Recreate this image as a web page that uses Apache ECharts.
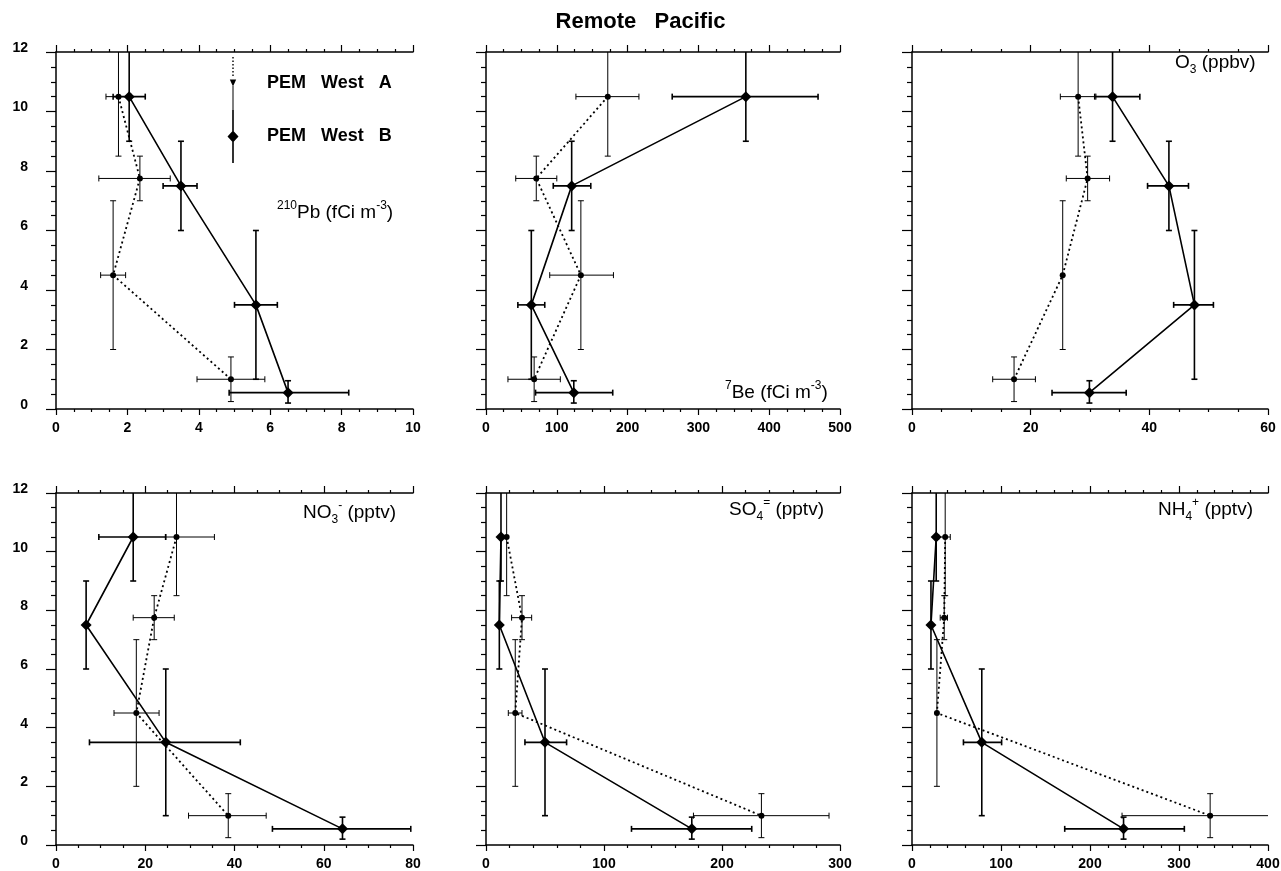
<!DOCTYPE html>
<html>
<head>
<meta charset="utf-8">
<title>Remote Pacific</title>
<script src="https://cdn.jsdelivr.net/npm/echarts@6.0.0/dist/echarts.min.js"></script>
<style>
  html, body { margin: 0; padding: 0; background: #fff; }
  #chart { width: 1281px; height: 871px; }
</style>
</head>
<body>
<div id="chart"></div>
<script>
// altitude (km) of each PEM West A / B layer, and the layer's altitude range
const altA = [10.5, 7.75, 4.5, 1.0];
const altB = [10.5, 7.5, 3.5, 0.55];
const altRangeA = [[8.5, 12.5], [7, 8.5], [2, 7], [0.25, 1.75]];
const altRangeB = [[9, 12.5], [6, 9], [1, 6], [0.2, 0.95]];

// 210Pb (fCi m-3)
const pbA = [1.75, 2.35, 1.6, 4.9];
const pbErrA = [[1.4, 2.1], [1.2, 3.2], [1.25, 1.95], [3.95, 5.85]];
const pbB = [2.05, 3.5, 5.6, 6.5];
const pbErrB = [[1.6, 2.5], [3.0, 3.95], [5.0, 6.2], [4.85, 8.2]];

// 7Be (fCi m-3)
const beA = [172, 71, 134, 68];
const beErrA = [[127, 216], [42, 100], [90, 180], [31, 105]];
const beB = [367, 121, 64, 124];
const beErrB = [[263, 469], [95, 148], [45, 83], [70, 179]];

// O3 (ppbv)
const o3A = [28, 29.6, 25.4, 17.2];
const o3ErrA = [[25, 31], [26, 33.3], null, [13.6, 20.8]];
const o3B = [33.8, 43.3, 47.6, 29.9];
const o3ErrB = [[30.8, 38.4], [39.7, 46.6], [44.1, 50.8], [23.6, 36.1]];

// NO3- (pptv)
const no3A = [27, 22, 18, 38.6];
const no3ErrA = [[24.5, 35.5], [17.3, 26.5], [13, 23.1], [29.7, 47.1]];
const no3B = [17.3, 6.75, 24.6, 64.2];
const no3ErrB = [[9.6, 24.6], null, [7.5, 41.3], [48.5, 79.5]];

// SO4= (pptv)
const so4A = [17.5, 30.5, 24.8, 233.4];
const so4ErrA = [null, [21.7, 38.7], [18.9, 30.5], [175.8, 290.7]];
const so4B = [12.7, 11.3, 50, 174.4];
const so4ErrB = [null, null, [33, 68.3], [123.3, 225.2]];

// NH4+ (pptv)
const nh4A = [37.3, 36.2, 28, 335];
const nh4ErrA = [[30, 43], [31.7, 39.9], null, [236, 440]];
const nh4B = [27.2, 21.3, 78.4, 237.7];
const nh4ErrB = [null, null, [57.8, 100.7], [171.6, 306]];

const FONT = '"Liberation Sans", Arial, Helvetica, sans-serif';

const panels = [
  { xMax: 10, xStep: 2, minor: 4, a: pbA, aErr: pbErrA, b: pbB, bErr: pbErrB },
  { xMax: 500, xStep: 100, minor: 4, a: beA, aErr: beErrA, b: beB, bErr: beErrB },
  { xMax: 60, xStep: 20, minor: 4, a: o3A, aErr: o3ErrA, b: o3B, bErr: o3ErrB },
  { xMax: 80, xStep: 20, minor: 4, a: no3A, aErr: no3ErrA, b: no3B, bErr: no3ErrB },
  { xMax: 300, xStep: 100, minor: 5, a: so4A, aErr: so4ErrA, b: so4B, bErr: so4ErrB },
  { xMax: 400, xStep: 100, minor: 5, a: nh4A, aErr: nh4ErrA, b: nh4B, bErr: nh4ErrB }
];

const colLeft = [56, 486, 912];
const colWidth = [357, 354, 356];
const rowTop = [52, 493];
const rowHeight = [357, 352];

const axisColor = '#000';
const tickStyle = { color: axisColor, width: 1.2 };

// small rect helper for the legend icons
function rect(x, y, w, h) {
  return 'M' + x + ' ' + y + 'L' + (x + w) + ' ' + y + 'L' + (x + w) + ' ' + (y + h) + 'L' + x + ' ' + (y + h) + 'Z';
}
const iconBox = rect(0, 52.98, 0.02, 0.02) + rect(13.98, 52.98, 0.02, 0.02);
let dots = '';
for (let y = 0; y < 21; y += 3.5) dots += rect(6.3, y, 1.4, 1.6);
const iconA = 'path://' + iconBox + dots + 'M3.8 22.5L10.2 22.5L7 29.5Z' + rect(6.5, 29, 1, 24);
const iconB = 'path://' + iconBox + rect(6.2, 0, 1.6, 53) + 'M7 20.5L12.5 26.5L7 32.5L1.5 26.5Z';

function errRender(lw) {
  return function (params, api) {
    const x = api.value(0), y = api.value(1);
    const xlo = api.value(2), xhi = api.value(3);
    const ylo = api.value(4), yhi = api.value(5);
    const c = 3;
    const style = { stroke: '#000', lineWidth: lw };
    const segs = [];
    const pl = api.coord([x, ylo]), ph = api.coord([x, yhi]);
    segs.push([pl[0], pl[1], ph[0], ph[1]]);
    segs.push([pl[0] - c, pl[1], pl[0] + c, pl[1]]);
    segs.push([ph[0] - c, ph[1], ph[0] + c, ph[1]]);
    if (xhi > xlo) {
      const ql = api.coord([xlo, y]), qh = api.coord([xhi, y]);
      segs.push([ql[0], ql[1], qh[0], qh[1]]);
      segs.push([ql[0], ql[1] - c, ql[0], ql[1] + c]);
      segs.push([qh[0], qh[1] - c, qh[0], qh[1] + c]);
    }
    return {
      type: 'group',
      children: segs.map(s => ({
        type: 'line',
        shape: { x1: s[0], y1: s[1], x2: s[2], y2: s[3] },
        style: style
      }))
    };
  };
}

function errData(vals, errs, alts, ranges) {
  return vals.map((v, i) => {
    const e = errs[i] || [v, v];
    return [v, alts[i], e[0], e[1], ranges[i][0], ranges[i][1]];
  });
}

const grid = [], xAxis = [], yAxis = [], series = [];

panels.forEach((p, i) => {
  const col = i % 3, row = Math.floor(i / 3);
  grid.push({
    left: colLeft[col], top: rowTop[row], width: colWidth[col], height: rowHeight[row],
    containLabel: false, outerBoundsMode: 'none'
  });
  const common = {
    gridIndex: i, type: 'value', min: 0, max: p.xMax, interval: p.xStep,
    splitLine: { show: false },
    axisLine: { onZero: false, lineStyle: { color: axisColor, width: 1.5 } },
    minorTick: { show: true, splitNumber: p.minor, length: 3, lineStyle: tickStyle }
  };
  xAxis.push(Object.assign({}, common, {
    position: 'bottom',
    axisTick: { inside: false, length: 6, lineStyle: tickStyle },
    axisLabel: { margin: 12, color: '#000', fontFamily: FONT, fontSize: 14, fontWeight: 'bold' }
  }));
  xAxis.push(Object.assign({}, common, {
    position: 'top',
    axisTick: { inside: false, length: 7, lineStyle: tickStyle },
    axisLabel: { show: false }
  }));
  yAxis.push({
    gridIndex: i, type: 'value', min: 0, max: 12, interval: 2,
    splitLine: { show: false },
    axisLine: { onZero: false, lineStyle: { color: axisColor, width: 1.5 } },
    axisTick: { inside: false, length: 10, lineStyle: tickStyle },
    minorTick: { show: true, splitNumber: 4, length: 5, lineStyle: tickStyle },
    axisLabel: {
      show: col === 0, margin: 28, color: '#000',
      verticalAlign: 'bottom', lineHeight: 8,
      fontFamily: FONT, fontSize: 14, fontWeight: 'bold'
    }
  });

  const xi = 2 * i;
  series.push({
    type: 'custom', name: 'errA' + i, xAxisIndex: xi, yAxisIndex: i,
    renderItem: errRender(1), clip: true, silent: true,
    encode: { x: 0, y: 1 },
    data: errData(p.a, p.aErr, altA, altRangeA), z: 2
  });
  series.push({
    type: 'custom', name: 'errB' + i, xAxisIndex: xi, yAxisIndex: i,
    renderItem: errRender(1.6), clip: true, silent: true,
    encode: { x: 0, y: 1 },
    data: errData(p.b, p.bErr, altB, altRangeB), z: 2
  });
  series.push({
    type: 'line', name: 'PEM West A', xAxisIndex: xi, yAxisIndex: i,
    data: p.a.map((v, k) => [v, altA[k]]),
    symbol: 'circle', symbolSize: 6,
    itemStyle: { color: '#000' },
    lineStyle: { color: '#000', width: 1.8, type: [2, 3] },
    z: 3
  });
  series.push({
    type: 'line', name: 'PEM West B', xAxisIndex: xi, yAxisIndex: i,
    data: p.b.map((v, k) => [v, altB[k]]),
    symbol: 'diamond', symbolSize: 11,
    itemStyle: { color: '#000' },
    lineStyle: { color: '#000', width: 1.6 },
    z: 4
  });
});

const rich = {
  n: { fontFamily: FONT, fontSize: 19, fontWeight: 'normal', lineHeight: 26, color: '#000' },
  sup: { fontFamily: FONT, fontSize: 12, fontWeight: 'normal', lineHeight: 13, verticalAlign: 'top', color: '#000' },
  sub: { fontFamily: FONT, fontSize: 12, fontWeight: 'normal', lineHeight: 13, verticalAlign: 'bottom', color: '#000' }
};

function label(text, left, top) {
  return { text: text, left: left, top: top, padding: 0, textStyle: { fontWeight: 'normal', rich: rich } };
}

const option = {
  backgroundColor: '#fff',
  animation: false,
  title: [
    {
      text: 'Remote   Pacific', left: 'center', top: 11, padding: 0,
      textStyle: { fontFamily: FONT, fontSize: 22, fontWeight: 'bold', color: '#000' }
    },
    label('{sup|210}{n|Pb (fCi m}{sup|-3}{n|)}', 277, 200),
    label('{sup|7}{n|Be (fCi m}{sup|-3}{n|)}', 725, 380),
    label('{n|O}{sub|3}{n| (ppbv)}', 1175, 50),
    label('{n|NO}{sub|3}{sup|-}{n| (pptv)}', 303, 500),
    label('{n|SO}{sub|4}{sup|=}{n| (pptv)}', 729, 497),
    label('{n|NH}{sub|4}{sup|+}{n| (pptv)}', 1158, 497)
  ],
  legend: {
    left: 226, top: 57, orient: 'vertical', itemGap: 0, padding: 0,
    itemWidth: 14, itemHeight: 53, selectedMode: false,
    data: [{ name: 'PEM West A', icon: iconA }, { name: 'PEM West B', icon: iconB }],
    formatter: n => n.replace(/ /g, '   '),
    itemStyle: { color: '#000', borderWidth: 0 },
    textStyle: { fontFamily: FONT, fontSize: 18, fontWeight: 'bold', color: '#000', padding: [4, 0, 0, 22] }
  },
  grid: grid,
  xAxis: xAxis,
  yAxis: yAxis,
  series: series
};

const chart = echarts.init(document.getElementById('chart'), null, { renderer: 'canvas' });
chart.setOption(option);
</script>
</body>
</html>
